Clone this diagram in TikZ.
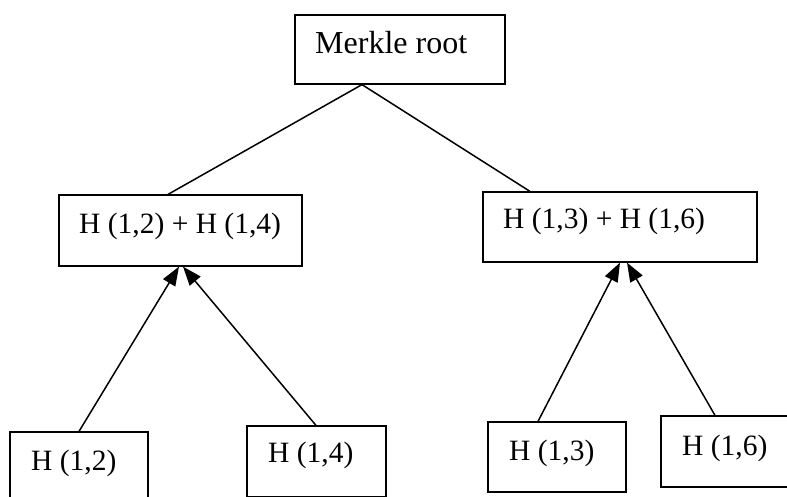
\documentclass[tikz,border=0pt]{standalone}
\usepackage{fontspec}
\setmainfont{Liberation Serif}
\usetikzlibrary{arrows.meta}
\begin{document}
\begin{tikzpicture}[x=1pt,y=-1pt,
  hbox/.style={draw,rectangle,inner sep=0pt,line width=1.2pt},
  htext/.style={anchor=base west,inner sep=0pt,font=\fontsize{29.5}{34}\selectfont},
  link/.style={line width=1.5pt},
  uparrow/.style={line width=1.5pt,-{Triangle[length=19pt,width=14pt]}}]
\useasboundingbox (0,0) rectangle (787,496);
\clip (0,0) rectangle (787,496);
% boxes
\node[hbox,minimum width=210pt,minimum height=69pt] (root) at (400,49.5) {};
\node[hbox,minimum width=243pt,minimum height=71pt] (mid1) at (180.5,230.5) {};
\node[hbox,minimum width=274pt,minimum height=70pt] (mid2) at (620,227) {};
\node[hbox,minimum width=138pt,minimum height=70pt] (b1) at (79,467) {};
\node[hbox,minimum width=139pt,minimum height=71pt] (b2) at (316.5,461.5) {};
\node[hbox,minimum width=138pt,minimum height=70pt] (b3) at (557,457) {};
\node[hbox,minimum width=138pt,minimum height=71pt] (b4) at (730,451.5) {};
% labels
\node[htext,font=\fontsize{32}{36}\selectfont] (rootT) at (315,53) {Merkle root};
\node[htext] (mid1T) at (79,233) {H (1,2) + H (1,4)};
\node[htext] (mid2T) at (503,228) {H (1,3) + H (1,6)};
\node[htext] (b1T) at (31,470) {H (1,2)};
\node[htext] (b2T) at (268,462) {H (1,4)};
\node[htext] (b3T) at (509,460) {H (1,3)};
\node[htext] (b4T) at (682,455) {H (1,6)};
% connectors
\draw[link] ([xshift=-38pt]root.south) -- ([xshift=-12.5pt]mid1.north);
\draw[link] ([xshift=-38pt]root.south) -- ([xshift=-90pt]mid2.north);
\draw[uparrow] (b1.north) -- ([xshift=-1.5pt]mid1.south);
\draw[uparrow] ([xshift=-0.5pt]b2.north) -- ([xshift=2.5pt]mid1.south);
\draw[uparrow] ([xshift=-19pt]b3.north) -- ([xshift=0pt]mid2.south);
\draw[uparrow] ([xshift=-15pt]b4.north) -- ([xshift=7pt]mid2.south);
\end{tikzpicture}
\end{document}
